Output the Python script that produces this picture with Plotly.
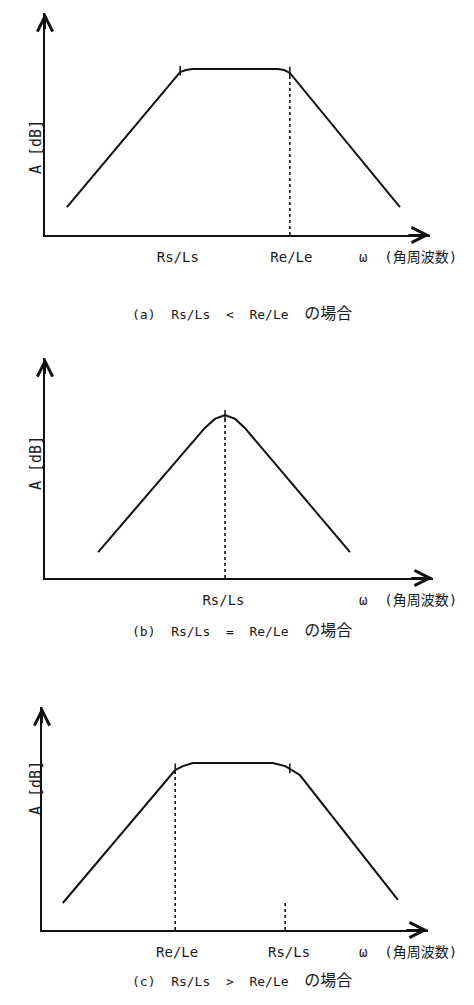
import plotly.graph_objects as go

W, H = 474, 1005
INK = "#111111"
TEXT = "#1a1a1a"
MONO = "DejaVu Sans Mono, Noto Sans CJK JP"

# --------------------------------------------------------------------------- #
# Data (x: angular frequency, arbitrary units 0-10; y: gain A in dB, 0-10)
# --------------------------------------------------------------------------- #

# (a) Rs/Ls < Re/Le
A_X = [0.57, 3.51, 3.66, 3.82, 6.05, 6.21, 6.36, 9.22]
A_Y = [1.26, 7.34, 7.43, 7.48, 7.48, 7.43, 7.30, 1.26]
A_BREAK_X = [3.51, 6.36]
A_BREAK_Y = [7.40, 7.36]
A_GUIDE_X = [6.36]
A_GUIDE_TOP = [7.30]
A_TICKS = [3.45, 6.40]
A_TICKTEXT = ["Rs/Ls", "Re/Le"]

# (b) Rs/Ls = Re/Le
B_X = [1.37, 4.12, 4.38, 4.64, 4.90, 5.15, 7.86]
B_Y = [1.18, 6.82, 7.23, 7.41, 7.23, 6.82, 1.18]
B_BREAK_X = [4.64]
B_BREAK_Y = [7.41]
B_GUIDE_X = [4.64]
B_GUIDE_TOP = [7.41]
B_TICKS = [4.60]
B_TICKTEXT = ["Rs/Ls"]

# (c) Rs/Ls > Re/Le
C_X = [0.54, 3.45, 3.65, 3.91, 5.98, 6.30, 6.68, 9.22]
C_Y = [1.21, 7.17, 7.35, 7.49, 7.49, 7.35, 6.95, 1.35]
C_BREAK_X = [3.45, 6.42]
C_BREAK_Y = [7.25, 7.25]
C_GUIDE_X = [3.45, 6.30]
C_GUIDE_TOP = [7.17, 1.35]
C_TICKS = [3.50, 6.40]
C_TICKTEXT = ["Re/Le", "Rs/Ls"]

Y_TITLE = "A [dB]"
X_TITLE = "ω  (角周波数)"
CAPTIONS = [
    "(a)  Rs/Ls  <  Re/Le  <span style='font-size:16px'>の場合</span>",
    "(b)  Rs/Ls  =  Re/Le  <span style='font-size:16px'>の場合</span>",
    "(c)  Rs/Ls  >  Re/Le  <span style='font-size:16px'>の場合</span>",
]

PANELS = [
    (A_X, A_Y, A_BREAK_X, A_BREAK_Y, A_GUIDE_X, A_GUIDE_TOP, A_TICKS, A_TICKTEXT),
    (B_X, B_Y, B_BREAK_X, B_BREAK_Y, B_GUIDE_X, B_GUIDE_TOP, B_TICKS, B_TICKTEXT),
    (C_X, C_Y, C_BREAK_X, C_BREAK_Y, C_GUIDE_X, C_GUIDE_TOP, C_TICKS, C_TICKTEXT),
]

# page boxes in px: axis origin x, arrow tip x, axis origin y, arrow tip y
BOXES = [
    (45, 430, 235, 13),
    (45, 433, 578, 358),
    (42, 428, 930, 707),
]
CAPTION_Y = [302, 630, 992]
YTITLE_Y = [118, 463, 817]

fig = go.Figure()
annotations = []
layout = {}

for i, (px, py, bx, by, gx, gtop, tv, tt) in enumerate(PANELS):
    n = "" if i == 0 else str(i + 1)
    xa, ya = "x" + n, "y" + n
    left, right, bottom, top = BOXES[i]

    fig.add_trace(go.Scatter(
        x=px, y=py, mode="lines", xaxis=xa, yaxis=ya,
        line=dict(color=INK, width=2), hoverinfo="skip",
    ))
    for gxi, gti in zip(gx, gtop):
        fig.add_trace(go.Scatter(
            x=[gxi, gxi], y=[0, gti], mode="lines", xaxis=xa, yaxis=ya,
            line=dict(color=INK, width=1.6, dash="3px,3px"), hoverinfo="skip",
        ))
    fig.add_trace(go.Scatter(
        x=bx, y=by, mode="markers", xaxis=xa, yaxis=ya,
        marker=dict(symbol="line-ns", size=7, line=dict(color=INK, width=1.5)),
        hoverinfo="skip",
    ))

    layout["xaxis" + n] = dict(
        domain=[left / W, right / W], range=[0, 10], anchor=ya,
        showline=True, linecolor=INK, linewidth=2,
        showgrid=False, zeroline=False, fixedrange=True,
        tickvals=tv, ticktext=tt, ticks="outside", ticklen=8,
        tickcolor="rgba(0,0,0,0)", tickfont=dict(family=MONO, size=14, color=TEXT),
    )
    layout["yaxis" + n] = dict(
        domain=[1 - bottom / H, 1 - top / H], range=[0, 10], anchor=xa,
        showline=True, linecolor=INK, linewidth=2,
        showgrid=False, zeroline=False, showticklabels=False, ticks="",
        fixedrange=True,
    )

    # axis arrowheads
    annotations.append(dict(
        x=10, y=0, ax=9.4, ay=0, xref=xa, yref=ya, axref=xa, ayref=ya,
        text="", showarrow=True, arrowhead=5, arrowsize=1.5, arrowwidth=2,
        arrowcolor=INK,
    ))
    annotations.append(dict(
        x=0, y=10, ax=0, ay=9.2, xref=xa, yref=ya, axref=xa, ayref=ya,
        text="", showarrow=True, arrowhead=5, arrowsize=1.5, arrowwidth=2,
        arrowcolor=INK,
    ))
    # x-axis title at the right, under the axis
    annotations.append(dict(
        x=357 / W, y=0, xref="paper", yref=ya, xanchor="left", yanchor="top",
        yshift=-12, text=X_TITLE, showarrow=False,
        font=dict(family=MONO, size=14, color=TEXT),
    ))
    # y-axis title
    annotations.append(dict(
        x=25 / W, y=1 - YTITLE_Y[i] / H, xref="paper", yref="paper",
        text=Y_TITLE, textangle=-90, showarrow=False,
        font=dict(family=MONO, size=15, color=TEXT),
    ))
    # caption
    annotations.append(dict(
        x=242 / W, y=1 - CAPTION_Y[i] / H, xref="paper", yref="paper",
        text=CAPTIONS[i], showarrow=False,
        font=dict(family=MONO, size=13, color=TEXT),
    ))

fig.update_layout(
    **layout,
    width=W, height=H,
    margin=dict(l=0, r=0, t=0, b=0),
    paper_bgcolor="white", plot_bgcolor="white",
    showlegend=False,
    annotations=annotations,
)

fig.write_html(
    "out.html",
    config={"displayModeBar": False},
    post_script="document.body.style.margin='0';",
)
